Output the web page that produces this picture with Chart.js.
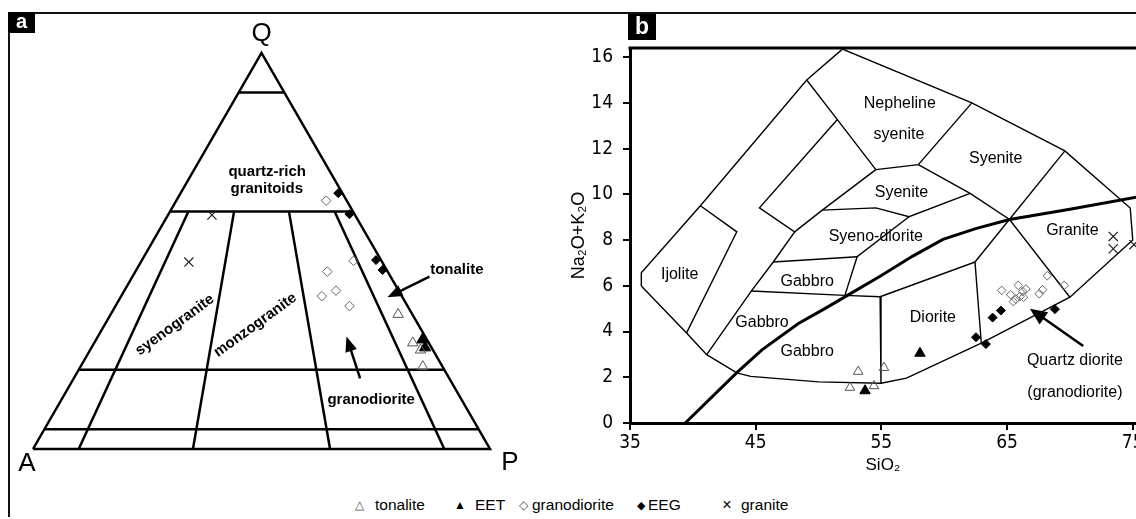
<!DOCTYPE html>
<html><head><meta charset="utf-8">
<script src="https://cdn.jsdelivr.net/npm/chart.js@4.4.1/dist/chart.umd.min.js"></script>
<style>
html,body{margin:0;padding:0;background:#fff;}
body{width:1136px;height:519px;position:relative;overflow:hidden;font-family:'Liberation Sans',Arial,sans-serif;}
#frame{position:absolute;left:8px;top:12px;width:1140px;height:503px;border-top:2px solid #111;border-left:2px solid #111;}
.tag{position:absolute;background:#000;color:#fff;font-weight:bold;text-align:center;z-index:5;}
#tagA{left:8px;top:12px;width:27px;height:21px;font-size:20px;line-height:19px;}
#tagB{left:628px;top:14px;width:28px;height:26px;font-size:23px;line-height:24px;}
#wa{position:absolute;left:0;top:0;}
#wb{position:absolute;left:560px;top:0;}
.lg{position:absolute;top:496px;font-size:15.5px;line-height:18px;color:#000;white-space:nowrap;}
.sym{transform:translateX(-50%);}
</style>
</head><body>
<div id="frame"></div>
<div class="tag" id="tagA">a</div>
<div class="tag" id="tagB">b</div>
<canvas id="wa" width="560" height="480"></canvas>
<canvas id="wb" width="576" height="480"></canvas>
<div id="legend"></div>
<script>
// ---------- series names ----------
const seriesNames = ['tonalite','EET','granodiorite','EEG','granite'];
const seriesSymbols = ['△','▲','◇','◆','×'];

// ---------- panel a: QAP data, [Q, A, P] in % ----------
const qapTonalite     = [[34.0,3.1,62.9],[26.8,3.5,69.7],[25.0,2.7,72.3],[20.8,4.3,74.9]];
const qapEET          = [[27.6,1.0,71.4],[25.6,1.4,73.0]];
const qapGranodiorite = [[62.7,4.5,32.8],[47.5,6.1,46.4],[44.8,13.2,42.0],[40.0,13.7,46.3],[38.6,17.5,43.9],[36.1,12.7,51.2]];
const qapEEG          = [[64.6,0.9,34.5],[59.3,1.1,39.6],[47.7,1.1,51.2],[45.2,0.9,53.9]];
const qapGranite      = [[59.1,31.3,9.6],[47.2,42.3,10.5]];
// classification grid constants
const qapQLevels  = [90,60,20,5];
const qapPRatios  = [10,35,65,90];

// ---------- panel b: TAS data, [SiO2, Na2O+K2O] ----------
const tasTonalite     = [[53.16,2.25],[52.5,1.55],[54.41,1.62],[55.21,2.42]];
const tasEET          = [[53.7,1.41],[58.07,3.05]];
const tasGranodiorite = [[64.57,5.80],[65.29,5.61],[65.89,6.02],[66.24,5.75],[66.5,5.86],[65.7,5.42],[66.03,5.53],[65.5,5.31],[66.3,5.5],[67.56,5.65],[67.83,5.83],[68.2,6.44],[69.55,6.02]];
const tasEEG          = [[62.53,3.75],[63.32,3.45],[63.85,4.61],[64.51,4.92],[68.81,4.98]];
const tasGranite      = [[73.45,8.16],[73.45,7.62],[75.1,7.8]];
const tasXTicks = [35,45,55,65,75];
const tasYTicks = [0,2,4,6,8,10,12,14,16];

// TAS field boundaries
const tasOuter = [[35.9,5.99],[35.9,6.57],[40.6,9.5],[49.06,15.0],[51.9,16.35],[62.2,14.0],[69.6,11.9],[74.8,9.4],[75.0,8.0],[70.0,5.5],[62.95,3.49],[57.0,1.96],[54.97,1.74],[50.0,1.8],[44.6,2.04],[43.5,2.19],[41.1,2.99],[39.5,3.94],[35.9,5.99]];
const tasNephLeft     = [[49.06,15.0],[51.5,13.27],[54.56,11.08]];
const tasStripA       = [[40.6,9.5],[43.5,8.36],[39.5,3.94]];
const tasStripB       = [[51.5,13.27],[45.3,9.41],[48.1,8.36],[46.4,7.04],[44.65,5.77],[41.1,2.99]];
const tasSyeniteLeft  = [[54.56,11.08],[50.3,9.31],[48.1,8.36]];
const tasSyenDiorTop  = [[50.3,9.31],[54.56,9.41],[57.2,9.02],[62.06,10.04]];
const tasSyenDiorLow  = [[57.2,9.02],[53.07,7.27],[52.1,5.58]];
const tasGabbroTop    = [[46.4,7.04],[53.07,7.27]];
const tasGabbroBase   = [[44.65,5.77],[52.1,5.58],[54.9,5.52]];
const tasNephBase     = [[54.56,11.08],[57.94,11.3],[62.2,14.0]];
const tasSyeniteBase  = [[57.94,11.3],[62.06,10.04],[65.2,8.9],[70.0,5.5]];
const tasGraniteLeft  = [[69.6,11.9],[62.45,7.04]];
const tasDioriteTop   = [[54.9,5.52],[62.45,7.04],[62.95,3.49]];
const tasDioriteLeft  = [[54.9,5.52],[54.97,1.74]];
const tasAlkaline     = [[39.4,0],[43.5,2.2],[45.5,3.2],[48.4,4.35],[50.5,5.0],[52.2,5.55],[54.9,6.42],[57.5,7.3],[59.9,8.03],[62.5,8.5],[65.2,8.9],[70.0,9.35],[75.5,9.9]];

// ---------- helpers ----------
const FONT = "'Liberation Sans', Arial, Helvetica, sans-serif";
const NARROW = "'Liberation Sans Narrow', 'Arial Narrow', 'DejaVu Sans Condensed', sans-serif";
Chart.defaults.font.family = FONT;
Chart.defaults.color = '#000';

const qapXY = t => ({x:(t[2] + t[0]/2)/100, y:t[0]/100});
const tasXY = p => ({x:p[0], y:p[1]});

function lineDs(pts, w){
  return {data:pts, showLine:true, borderColor:'#000', borderWidth:w, pointRadius:0, pointHoverRadius:0,
          fill:false, order:2, clip:false, tension:0, borderJoinStyle:'miter'};
}
function markDs(label, pts, style, r, fill, stroke, bw){
  return {label, data:pts, pointStyle:style, pointRadius:r, pointHoverRadius:r, pointBackgroundColor:fill,
          pointBorderColor:stroke, pointBorderWidth:bw, showLine:false, order:1, clip:false};
}
function arrow(ctx,x0,y0,x1,y1,head,half,lw){
  const ang=Math.atan2(y1-y0,x1-x0);
  const bx=x1-head*Math.cos(ang), by=y1-head*Math.sin(ang);
  ctx.beginPath(); ctx.moveTo(x0,y0); ctx.lineTo(bx+Math.cos(ang)*2,by+Math.sin(ang)*2);
  ctx.lineWidth=lw; ctx.strokeStyle='#000'; ctx.stroke();
  ctx.beginPath(); ctx.moveTo(x1,y1);
  ctx.lineTo(bx+half*Math.sin(ang), by-half*Math.cos(ang));
  ctx.lineTo(bx-half*Math.sin(ang), by+half*Math.cos(ang));
  ctx.closePath(); ctx.fillStyle='#000'; ctx.fill();
}

// ---------- panel a ----------
const qapLines = [];
qapLines.push([[0,100,0],[100,0,0],[0,0,100],[0,100,0]]);
qapQLevels.forEach(q => qapLines.push([[q,100-q,0],[q,0,100-q]]));
qapPRatios.forEach(r => qapLines.push([[60,40*(100-r)/100,40*r/100],[0,100-r,r]]));

const qapText = {
  id:'qapText',
  afterDatasetsDraw(chart){
    const {ctx, scales:{x,y}} = chart;
    const px = t => [x.getPixelForValue((t[2]+t[0]/2)/100), y.getPixelForValue(t[0]/100)];
    ctx.save();
    ctx.fillStyle='#000'; ctx.textAlign='center'; ctx.textBaseline='middle';
    ctx.font = "26px "+FONT;
    let p = px([100,0,0]); ctx.fillText('Q', p[0], p[1]-19);
    p = px([0,100,0]); ctx.fillText('A', p[0]-6, p[1]+15);
    p = px([0,0,100]); ctx.fillText('P', p[0]+20, p[1]+14);
    ctx.font = "bold 15px "+FONT;
    p = px([69.9,13.8,16.3]); ctx.fillText('quartz-rich', p[0], p[1]);
    p = px([65.7,16.0,18.3]); ctx.fillText('granitoids', p[0], p[1]);
    p = px([12.4,19.8,67.8]); ctx.fillText('granodiorite', p[0], p[1]);
    [['syenogranite',[31.3,53.3,15.4]],['monzogranite',[31.3,35.7,33.0]]].forEach(([t,c])=>{
      const q = px(c); ctx.save(); ctx.translate(q[0],q[1]); ctx.rotate(-36*Math.PI/180);
      ctx.fillText(t,0,0); ctx.restore();
    });
    ctx.textAlign='left';
    p = px([45.2,-9.5,64.3]); ctx.fillText('tonalite', p[0], p[1]);
    let a = px([43.5,-8.5,65.0]), b = px([38.3,3.3,58.4]);
    arrow(ctx,a[0],a[1],b[0],b[1],15,6,2.5);
    a = px([17.85,19.5,62.65]); b = px([28.4,17.2,54.4]);
    arrow(ctx,a[0],a[1],b[0],b[1],15,6,2.5);
    ctx.restore();
  }
};

new Chart(document.getElementById('wa'), {
  type:'scatter',
  data:{datasets:[
    markDs(seriesNames[0], qapTonalite.map(qapXY), 'triangle', 6, 'rgba(0,0,0,0)', '#555', 1),
    markDs(seriesNames[1], qapEET.map(qapXY), 'triangle', 6.5, '#000', '#000', 1),
    markDs(seriesNames[2], qapGranodiorite.map(qapXY), 'rectRot', 4.8, 'rgba(0,0,0,0)', '#666', 1),
    markDs(seriesNames[3], qapEEG.map(qapXY), 'rectRot', 4.5, '#000', '#000', 1),
    markDs(seriesNames[4], qapGranite.map(qapXY), 'crossRot', 6.5, '#000', '#222', 1.2),
    ...qapLines.map(l => lineDs(l.map(qapXY), 2.5))
  ]},
  options:{
    responsive:false, animation:false, events:[],
    layout:{padding:0, autoPadding:false},
    plugins:{legend:{display:false}, tooltip:{enabled:false}},
    scales:{
      x:{type:'linear', display:false, min:-33/457, max:527/457},
      y:{type:'linear', display:false, min:-31/396, max:449/396}
    }
  },
  plugins:[qapText]
});

// ---------- panel b ----------
const tasFieldLines = [tasOuter,tasNephLeft,tasStripA,tasStripB,tasSyeniteLeft,tasSyenDiorTop,tasSyenDiorLow,
  tasGabbroTop,tasGabbroBase,tasNephBase,tasSyeniteBase,tasGraniteLeft,tasDioriteTop,tasDioriteLeft];
const tasLabels = [
  ['Nepheline',[56.47,13.99]],['syenite',[56.4,12.6]],['Syenite',[64.1,11.55]],['Syenite',[56.6,10.07]],
  ['Syeno-diorite',[54.56,8.15]],['Granite',[70.2,8.4]],['Ijolite',[38.95,6.5]],['Gabbro',[49.1,6.2]],
  ['Gabbro',[45.5,4.4]],['Gabbro',[49.1,3.14]],['Diorite',[59.1,4.6]],['Quartz diorite',[70.4,2.72]],
  ['(granodiorite)',[70.4,1.32]]
];
const tasText = {
  id:'tasText',
  afterDatasetsDraw(chart){
    const {ctx, scales:{x,y}, chartArea} = chart;
    ctx.save();
    ctx.beginPath(); ctx.moveTo(chartArea.left-1.5, chartArea.top); ctx.lineTo(chartArea.right+2, chartArea.top);
    ctx.lineWidth=3; ctx.strokeStyle='#000'; ctx.stroke();
    ctx.fillStyle='#000'; ctx.textAlign='center'; ctx.textBaseline='middle';
    ctx.font = "16px "+FONT;
    tasLabels.forEach(([t,c]) => ctx.fillText(t, x.getPixelForValue(c[0]), y.getPixelForValue(c[1])));
    arrow(ctx, x.getPixelForValue(71.06), y.getPixelForValue(3.37), x.getPixelForValue(66.82), y.getPixelForValue(5.0), 17, 7.5, 2.5);
    ctx.restore();
  }
};

const tickFont = {family:NARROW, size:19};
const gridOpt = {display:true, drawOnChartArea:false, drawTicks:true, tickLength:7, color:'#000', lineWidth:2};
new Chart(document.getElementById('wb'), {
  type:'scatter',
  data:{datasets:[
    markDs(seriesNames[0], tasTonalite.map(tasXY), 'triangle', 5.5, 'rgba(0,0,0,0)', '#555', 1),
    markDs(seriesNames[1], tasEET.map(tasXY), 'triangle', 6, '#000', '#000', 1),
    markDs(seriesNames[2], tasGranodiorite.map(tasXY), 'rectRot', 4.3, 'rgba(0,0,0,0)', '#666', 1),
    markDs(seriesNames[3], tasEEG.map(tasXY), 'rectRot', 4.5, '#000', '#000', 1),
    markDs(seriesNames[4], tasGranite.map(tasXY), 'crossRot', 6.5, '#000', '#222', 1.2),
    lineDs(tasAlkaline.map(tasXY), 3),
    ...tasFieldLines.map(l => lineDs(l.map(tasXY), 1.4))
  ]},
  options:{
    responsive:false, animation:false, events:[],
    layout:{padding:{top:48,left:0,right:0,bottom:0}, autoPadding:false},
    plugins:{legend:{display:false}, tooltip:{enabled:false}},
    scales:{
      x:{type:'linear', position:'bottom', min:35, max:75.26,
         afterFit(s){ s.height = 57; s.paddingLeft = 0; s.paddingRight = 0; },
         afterBuildTicks(s){ s.ticks = tasXTicks.map(v => ({value:v})); },
         ticks:{font:tickFont, color:'#000', padding:2, maxRotation:0, autoSkip:false},
         grid:gridOpt, border:{display:true, color:'#000', width:3},
         title:{display:true, text:'SiO₂', font:{family:FONT, size:17}, color:'#000', padding:{top:0,bottom:4}}},
      y:{type:'linear', position:'left', min:0, max:16.4,
         afterFit(s){ s.width = 70; s.paddingTop = 0; s.paddingBottom = 0; },
         afterBuildTicks(s){ s.ticks = tasYTicks.map(v => ({value:v})); },
         ticks:{font:tickFont, color:'#000', padding:10, autoSkip:false},
         grid:gridOpt, border:{display:true, color:'#000', width:3},
         title:{display:true, text:'Na₂O+K₂O', font:{family:FONT, size:18}, color:'#000', padding:{top:8,bottom:0}}}
    }
  },
  plugins:[tasText]
});

// ---------- legend ----------
const legSymX  = [359,460,523,641,727];
const legTextX = [375,475,532,648,741];
const legSymStyle = ['font-size:12px;color:#555','font-size:12px','font-size:12px;color:#555','font-size:11px','font-size:16px'];
const legend = document.getElementById('legend');
seriesNames.forEach((n,i) => {
  const s = document.createElement('span'); s.className='lg sym'; s.style.cssText = 'left:'+legSymX[i]+'px;'+legSymStyle[i];
  s.textContent = seriesSymbols[i]; legend.appendChild(s);
  const t = document.createElement('span'); t.className='lg'; t.style.left = legTextX[i]+'px'; t.textContent = n;
  legend.appendChild(t);
});
</script>
</body></html>
